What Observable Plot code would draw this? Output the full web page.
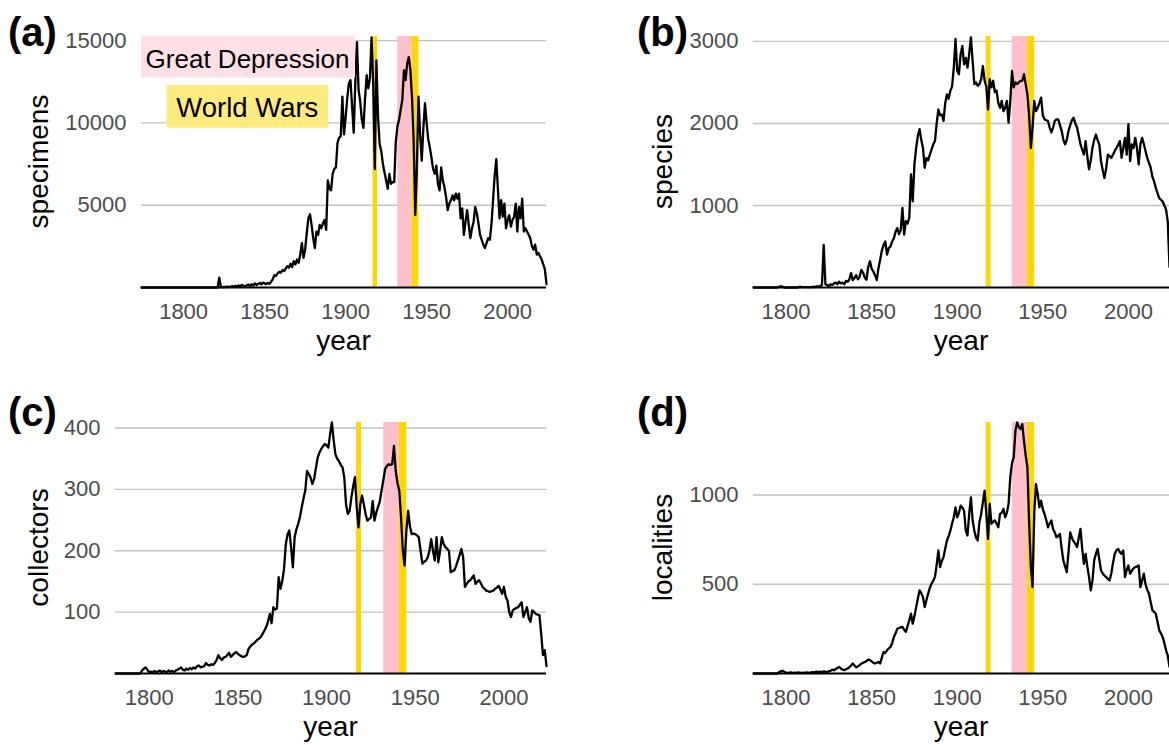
<!DOCTYPE html>
<html>
<head>
<meta charset="utf-8">
<script src="https://cdn.jsdelivr.net/npm/d3@7"></script>
<script src="https://cdn.jsdelivr.net/npm/@observablehq/plot@0.6"></script>
<style>
  html, body { margin: 0; padding: 0; background: #ffffff; }
  #wrap { position: relative; width: 1169px; height: 745px; overflow: hidden; background: #ffffff; }
  .panel { position: absolute; }
</style>
</head>
<body>
<div id="wrap"></div>
<script>
// ---------------- DATA ----------------
const xTicks = [1800, 1850, 1900, 1950, 2000];

const greatDepression = [{start: 1932.2, end: 1941.0}];
const worldWars = [{start: 1916.9, end: 1919.7}, {start: 1941.0, end: 1945.2}];

// (a) specimens per year, 1774..2024
const specimensStart = 1774;
const specimens = [
  0,0,0,0,0,0,                                      // 1774-1779
  0,0,0,0,0,0,0,0,0,0,                              // 1780s
  0,0,0,0,0,0,0,0,0,0,                              // 1790s
  0,0,0,0,0,0,0,0,0,0,                              // 1800s
  0,0,0,0,0,0,0,0,0,0,                              // 1810s
  0,0,600,30,20,40,30,60,20,50,                     // 1820s
  80,40,100,60,120,80,150,100,60,130,               // 1830s
  180,90,200,120,250,150,220,280,180,300,           // 1840s
  250,200,280,220,350,500,750,700,850,950,          // 1850s
  900,1050,1000,1150,1300,1200,1450,1250,1600,1400, // 1860s
  1700,1500,2000,2700,1800,2300,3300,4200,4450,3800,// 1870s
  3000,2400,3400,3200,3800,3600,3900,4100,3500,6500,// 1880s
  6000,5900,6900,7200,7300,8800,9100,9200,11600,9300, // 1890s
  10300,11500,12400,12600,11000,9400,12500,14900,12000,11300, // 1900s
  10200,9700,11500,12900,12100,12700,15200,12500,7200,13800,  // 1910s
  10400,8700,8300,7500,7000,6500,6000,6900,6300,6400,         // 1920s
  6400,8900,9800,10200,10800,11400,13200,12600,13600,14000,   // 1930s
  13200,11500,8900,4400,7300,11600,9300,7700,9700,11200,      // 1940s
  10000,9000,8500,7900,7200,6900,7400,6300,5900,7300,         // 1950s
  6500,6100,5500,4700,5100,5300,5600,5300,5700,5400,          // 1960s
  5700,4200,4800,3200,4000,4700,3800,3000,3600,4000,          // 1970s
  4900,4500,3900,3200,2900,2600,2400,2700,3000,2900,          // 1980s
  3800,5300,6800,7800,6000,4200,5300,4300,5100,3600,          // 1990s
  4100,4400,3700,4100,4300,5100,3400,4900,4200,5400,          // 2000s
  3400,3600,3400,3200,3000,2500,2300,2600,2000,2100,          // 2010s
  1900,1700,1400,1100,200                                     // 2020-2024
];

// (b) species per year, 1781..2024
const speciesStart = 1781;
const species = [
  0,0,0,0,0,0,0,0,0,                                // 1781-1789
  0,0,0,0,0,0,10,15,10,0,                           // 1790s
  0,0,0,0,0,0,0,0,10,5,                             // 1800s
  5,5,5,5,5,5,10,5,15,10,                           // 1810s
  20,30,520,40,30,20,40,30,50,60,                   // 1820s
  40,70,50,60,40,80,70,100,175,90,                  // 1830s
  115,150,100,130,215,180,120,95,250,320,           // 1840s
  230,195,150,90,235,340,450,520,560,400,           // 1850s
  480,500,560,600,680,725,650,700,970,645,          // 1860s
  810,780,850,1380,1050,1500,1700,1850,1930,1800,   // 1870s
  1700,1460,1580,1550,1620,1680,1745,1785,2000,2170,// 1880s
  2100,2110,2030,2250,2355,2300,2400,2450,2680,3030,// 1890s
  2640,2600,2845,2945,2720,2800,2680,2850,3050,2760,// 1900s
  2480,2500,2460,2480,2540,2700,2520,2450,2170,2540,// 1910s
  2440,2520,2380,2400,2250,2190,2275,2150,2190,2275,// 1920s
  2010,2275,2640,2440,2500,2480,2500,2520,2520,2600,// 1930s
  2480,2350,2100,1700,1950,2275,2150,2190,2250,2315,// 1940s
  2100,2050,2040,2030,1950,1890,1950,2030,2050,2050,// 1950s
  1980,1910,1800,1745,1800,1910,1980,2040,2070,2000,// 1960s
  1950,1850,1745,1680,1620,1785,1600,1440,1550,1700,// 1970s
  1800,1865,1800,1745,1540,1430,1335,1450,1620,1600,// 1980s
  1580,1620,1665,1700,1740,1785,1580,1700,1825,1620,// 1990s
  1990,1540,1745,1700,1825,1700,1500,1745,1825,1750,// 2000s
  1665,1580,1520,1460,1350,1295,1215,1150,1090,1070,// 2010s
  1050,1000,950,800,250                             // 2020-2024
];

// (c) collectors per year, 1781..2024
const collectorsStart = 1781;
const collectors = [
  0,0,0,0,0,0,0,0,0,                     // 1781-1789
  0,0,0,0,0,0,5,8,10,6,                  // 1790s
  2,3,2,4,2,3,5,2,4,3,                   // 1800s
  2,5,3,4,2,5,6,8,10,6,                  // 1810s
  5,8,6,9,7,10,8,12,13,10,               // 1820s
  11,12,17,14,13,15,14,17,22,30,         // 1830s
  25,22,26,27,30,34,27,30,33,35,         // 1840s
  32,30,28,27,28,30,40,44,47,49,         // 1850s
  52,55,57,60,65,70,76,85,97,82,         // 1860s
  108,104,106,157,138,150,170,210,227,233, // 1870s
  206,173,222,235,244,255,271,285,298,330, // 1880s
  325,319,309,317,335,352,360,366,370,374, // 1890s
  372,368,390,409,380,357,350,346,340,336, // 1900s
  319,275,260,265,287,305,320,271,238,275, // 1910s
  290,276,260,249,252,254,281,249,262,271, // 1920s
  280,298,315,333,338,341,340,341,371,330, // 1930s
  310,298,254,200,176,233,265,240,227,228, // 1940s
  227,225,222,200,179,182,184,189,200,219, // 1950s
  200,184,222,181,200,222,211,206,203,200, // 1960s
  165,167,168,175,184,193,203,190,141,146, // 1970s
  150,152,156,160,146,150,152,147,141,138, // 1980s
  135,134,133,134,135,138,140,143,137,130, // 1990s
  141,125,119,100,92,103,105,107,108,112,  // 2000s
  116,92,100,108,90,84,103,100,97,96,      // 2010s
  95,65,30,38,12                           // 2020-2024
];

// (d) localities per year, 1781..2024
const localitiesStart = 1781;
const localities = [
  0,0,0,0,0,0,0,0,0,                       // 1781-1789
  0,0,0,0,0,0,8,12,15,10,                  // 1790s
  5,4,5,6,4,5,4,6,5,4,                     // 1800s
  5,4,6,5,4,8,6,8,10,8,                    // 1810s
  10,8,12,10,9,12,15,22,18,25,             // 1820s
  30,37,28,22,19,24,28,35,45,56,           // 1830s
  45,34,40,47,55,60,65,70,78,75,           // 1840s
  68,60,56,60,65,56,90,121,115,130,        // 1850s
  140,149,170,205,225,251,255,258,261,245, // 1860s
  233,265,298,335,279,320,372,420,466,450, // 1870s
  428,372,410,447,480,503,520,540,610,689, // 1880s
  596,630,652,700,745,770,800,840,875,931, // 1890s
  875,900,940,930,912,800,773,894,987,857, // 1900s
  800,760,745,850,894,960,1024,894,754,950,// 1910s
  838,850,857,840,819,894,900,922,875,900, // 1920s
  950,1100,1180,1210,1359,1406,1380,1369,1397,1303, // 1930s
  1220,1154,850,600,484,900,1061,1005,931,968,      // 1940s
  920,894,860,819,840,857,810,790,763,770, // 1950s
  782,700,633,600,568,680,791,760,740,726, // 1960s
  708,760,810,700,614,670,600,540,466,520, // 1970s
  633,670,698,640,577,560,549,540,530,521, // 1980s
  560,620,670,690,698,680,670,689,540,580, // 1990s
  605,559,575,590,596,600,605,484,520,559, // 2000s
  500,470,447,400,354,345,335,290,242,225, // 2010s
  205,170,130,100,37                       // 2020-2024
];

const specimensTicks = [5000, 10000, 15000];
const speciesTicks = [1000, 2000, 3000];
const collectorsTicks = [100, 200, 300, 400];
const localitiesTicks = [500, 1000];

// ---------------- DRAWING ----------------
const FONT = '"Liberation Sans", Arial, Helvetica, sans-serif';
const wrap = document.getElementById("wrap");

function makePanel(cfg) {
  const data = cfg.values.map((v, i) => ({year: cfg.start + i, value: v}));
  const plot = Plot.plot({
    width: cfg.width,
    height: cfg.height,
    marginTop: cfg.mt,
    marginBottom: cfg.mb,
    marginLeft: cfg.ml,
    marginRight: cfg.mr,
    x: {domain: cfg.xDomain},
    y: {domain: [0, cfg.yMax]},
    style: {fontFamily: FONT, fontSize: "22px", color: "#4d4d4d", background: "#ffffff"},
    marks: [
      Plot.ruleY(cfg.yTicks, {stroke: "#c2c2c2", strokeWidth: 1.4}),
      Plot.rect(greatDepression, {x1: "start", x2: "end", y1: 0, y2: cfg.yMax, fill: "#FFC0CB"}),
      Plot.rect(worldWars, {x1: "start", x2: "end", y1: 0, y2: cfg.yMax, fill: "#FFD700"}),
      Plot.ruleY([0], {stroke: "#000000", strokeWidth: 1.8}),
      Plot.line(data, {x: "year", y: "value", stroke: "#000000", strokeWidth: 2.3, strokeLinejoin: "round"}),
      Plot.axisX({ticks: xTicks, tickSize: 0, tickPadding: 16, tickFormat: "d", label: null, fontSize: 22}),
      Plot.axisY({ticks: cfg.yTicks, tickSize: 0, tickPadding: 15, tickFormat: "d", label: null, fontSize: 22})
    ]
  });

  const svg = d3.select(plot);
  const plotBottom = cfg.height - cfg.mb;
  const plotCx = (cfg.ml + cfg.width - cfg.mr) / 2;
  const plotCy = (cfg.mt + plotBottom) / 2;

  if (cfg.legend) {
    const g = svg.append("g");
    g.append("rect").attr("x", 141).attr("y", 36).attr("width", 214).attr("height", 41.5).attr("fill", "#FFE0E6");
    g.append("text").attr("x", 247.5).attr("y", 67.5).attr("text-anchor", "middle")
      .attr("font-family", FONT).attr("font-size", 26).attr("fill", "#000").text("Great Depression");
    g.append("rect").attr("x", 166.5).attr("y", 85).attr("width", 161.5).attr("height", 42.7).attr("fill", "#FFEB80");
    g.append("text").attr("x", 247.3).attr("y", 116.5).attr("text-anchor", "middle")
      .attr("font-family", FONT).attr("font-size", 27.5).attr("fill", "#000").text("World Wars");
  }

  // x axis title
  svg.append("text").attr("x", plotCx).attr("y", plotBottom + 62.5).attr("text-anchor", "middle")
    .attr("font-family", FONT).attr("font-size", 28).attr("fill", "#000").text("year");
  // y axis title
  svg.append("text").attr("transform", `translate(${cfg.ytx},${plotCy}) rotate(-90)`).attr("text-anchor", "middle")
    .attr("font-family", FONT).attr("font-size", 28).attr("fill", "#000").text(cfg.ytitle);
  // panel tag
  svg.append("text").attr("x", cfg.tagX).attr("y", cfg.tagY).attr("text-anchor", "start")
    .attr("font-family", FONT).attr("font-size", 40).attr("font-weight", "bold").attr("fill", "#000").text(cfg.tag);

  const div = document.createElement("div");
  div.className = "panel";
  div.style.left = cfg.left + "px";
  div.style.top = cfg.top + "px";
  div.style.width = cfg.width + "px";
  div.style.height = cfg.height + "px";
  div.appendChild(plot);
  wrap.appendChild(div);
}

makePanel({values: specimens, start: specimensStart, xDomain: [1774, 2024], yMax: 15250, yTicks: specimensTicks,
  ytitle: "specimens", tag: "(a)", legend: true,
  left: 0, top: 0, width: 584, height: 372, mt: 36, mb: 85, ml: 141, mr: 38, ytx: 48, tagX: 8, tagY: 46});

makePanel({values: species, start: speciesStart, xDomain: [1781, 2024], yMax: 3060, yTicks: speciesTicks,
  ytitle: "species", tag: "(b)", legend: false,
  left: 584, top: 0, width: 585, height: 372, mt: 36, mb: 85, ml: 169, mr: 0, ytx: 88, tagX: 53, tagY: 46});

makePanel({values: collectors, start: collectorsStart, xDomain: [1781, 2024], yMax: 409, yTicks: collectorsTicks,
  ytitle: "collectors", tag: "(c)", legend: false,
  left: 0, top: 372, width: 584, height: 373, mt: 50, mb: 72, ml: 115, mr: 38, ytx: 48, tagX: 8, tagY: 54});

makePanel({values: localities, start: localitiesStart, xDomain: [1781, 2024], yMax: 1406, yTicks: localitiesTicks,
  ytitle: "localities", tag: "(d)", legend: false,
  left: 584, top: 372, width: 585, height: 373, mt: 50, mb: 72, ml: 169, mr: 0, ytx: 88, tagX: 53, tagY: 54});
</script>
</body>
</html>
